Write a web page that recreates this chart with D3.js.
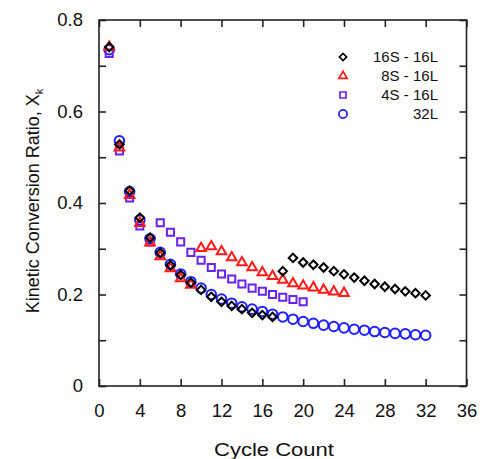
<html>
<head>
<script src="https://d3js.org/d3.v7.min.js"></script>
<style>
    body { margin: 0; background: #fdfdfc; }
    svg text { font-family: "Liberation Sans", Arial, sans-serif; fill: #111; }
</style>
</head>
<body>
<svg id="chart" width="480" height="459"></svg>
<script>
// cycle numbers per series
const cycles32 = d3.range(1, 33);
const cycles24 = d3.range(1, 25);
const cycles20 = d3.range(1, 21);

// Kinetic conversion ratio
const s16S16L = [0.741, 0.528, 0.427, 0.368, 0.324, 0.291, 0.264, 0.243, 0.226, 0.210,
                 0.195, 0.184, 0.175, 0.168, 0.160, 0.155, 0.151, 0.251, 0.280, 0.270,
                 0.265, 0.259, 0.251, 0.244, 0.237, 0.230, 0.223, 0.217, 0.212, 0.207,
                 0.203, 0.198];
const s8S16L = [0.741, 0.521, 0.417, 0.356, 0.313, 0.283, 0.257, 0.235, 0.221, 0.301,
                0.305, 0.294, 0.281, 0.270, 0.259, 0.248, 0.240, 0.232, 0.224, 0.219,
                0.215, 0.210, 0.206, 0.203];
const s4S16L = [0.727, 0.514, 0.411, 0.350, 0.315, 0.357, 0.336, 0.315, 0.292, 0.275,
                0.259, 0.245, 0.234, 0.223, 0.214, 0.207, 0.200, 0.194, 0.189, 0.184];
const s32L = [0.735, 0.536, 0.425, 0.363, 0.322, 0.292, 0.266, 0.245, 0.228, 0.214,
              0.200, 0.190, 0.181, 0.173, 0.168, 0.163, 0.157, 0.151, 0.146, 0.141,
              0.137, 0.133, 0.130, 0.127, 0.124, 0.122, 0.119, 0.117, 0.115, 0.114,
              0.112, 0.111];

const seriesNames = ["16S - 16L", "8S - 16L", "4S - 16L", "32L"];
const xTicks = d3.range(0, 37, 4);
const yTicks = [0, 0.2, 0.4, 0.6, 0.8];
const yMinorTicks = d3.range(0, 0.81, 0.1);

const svg = d3.select("#chart");
const mLeft = 99, mRight = 466.5, mTop = 20, mBottom = 386;
const x = d3.scaleLinear().domain([0, 36]).range([mLeft, mRight]);
const y = d3.scaleLinear().domain([0, 0.8]).range([mBottom, mTop]);

// frame
svg.append("rect").attr("x", mLeft).attr("y", mTop)
   .attr("width", mRight - mLeft).attr("height", mBottom - mTop)
   .attr("fill", "none").attr("stroke", "#222").attr("stroke-width", 1.6);

// inward ticks on all four sides
const tk = 7;
svg.append("g").attr("transform", `translate(0,${mBottom})`)
   .call(d3.axisBottom(x).tickValues(xTicks).tickSize(-tk).tickPadding(18).tickFormat(d3.format("d")))
   .call(g => g.select(".domain").remove());
svg.append("g").attr("transform", `translate(0,${mTop})`)
   .call(d3.axisTop(x).tickValues(xTicks).tickSize(-tk).tickFormat(""))
   .call(g => g.select(".domain").remove());
svg.append("g").attr("transform", `translate(${mLeft},0)`)
   .call(d3.axisLeft(y).tickValues(yMinorTicks).tickSize(-tk).tickPadding(16)
        .tickFormat(d => yTicks.some(t => Math.abs(t - d) < 1e-6) ? (d === 0 ? "0" : d3.format(".1f")(d)) : ""))
   .call(g => g.select(".domain").remove());
svg.append("g").attr("transform", `translate(${mRight},0)`)
   .call(d3.axisRight(y).tickValues(yMinorTicks).tickSize(-tk).tickFormat(""))
   .call(g => g.select(".domain").remove());
svg.selectAll(".tick line").attr("stroke", "#222").attr("stroke-width", 1.6);
svg.selectAll(".tick text").style("font-size", "18.5px").attr("fill", "#111");

// axis titles
svg.append("text").attr("x", 274).attr("y", 456)
   .attr("text-anchor", "middle").style("font-size", "18px")
   .attr("textLength", 120).attr("lengthAdjust", "spacingAndGlyphs").text("Cycle Count");
const yt = svg.append("text").attr("transform", `translate(39,${(mTop + mBottom) / 2 - 2}) rotate(-90)`)
   .attr("text-anchor", "middle").style("font-size", "18px");
yt.append("tspan").text("Kinetic Conversion Ratio, X");
yt.append("tspan").attr("dy", 4).style("font-size", "11px").text("k");

// marker shapes
const sym = {
  diamond: d3.symbol().type(d3.symbolSquare).size(36),
  triangle: d3.symbol().type(d3.symbolTriangle).size(40),
  square: d3.symbol().type(d3.symbolSquare).size(50),
  circle: d3.symbol().type(d3.symbolCircle).size(72)
};

const series = [
  {name: seriesNames[3], xs: cycles32, ys: s32L, color: "#1f1fff", shape: "circle"},
  {name: seriesNames[2], xs: cycles20, ys: s4S16L, color: "#6a22ee", shape: "square"},
  {name: seriesNames[1], xs: cycles24, ys: s8S16L, color: "#ff1a1a", shape: "triangle"},
  {name: seriesNames[0], xs: cycles32, ys: s16S16L, color: "#000", shape: "diamond"}
];

function marker(sel, s) {
  sel.attr("d", sym[s.shape]()).attr("fill", "none")
     .attr("stroke", s.color).attr("stroke-width", 2);
}

series.forEach(s => {
  svg.append("g").selectAll("path")
     .data(s.xs.map((c, i) => [c, s.ys[i]]))
     .join("path")
     .call(marker, s)
     .attr("transform", d => `translate(${x(d[0])},${y(d[1])})` + (s.shape === "diamond" ? " rotate(45)" : ""));
});

// legend (markers drawn a bit smaller than in the plot)
const legOrder = [3, 2, 1, 0];
legOrder.forEach((si, k) => {
  const s = series[si];
  const ly = 57 + k * 19;
  svg.append("path").call(marker, s)
     .attr("transform", `translate(343,${ly}) scale(0.85)` + (s.shape === "diamond" ? " rotate(45)" : ""));
  svg.append("text").attr("x", 438).attr("y", ly + 5).attr("text-anchor", "end")
     .style("font-size", "15px").text(s.name);
});
</script>
</body>
</html>
